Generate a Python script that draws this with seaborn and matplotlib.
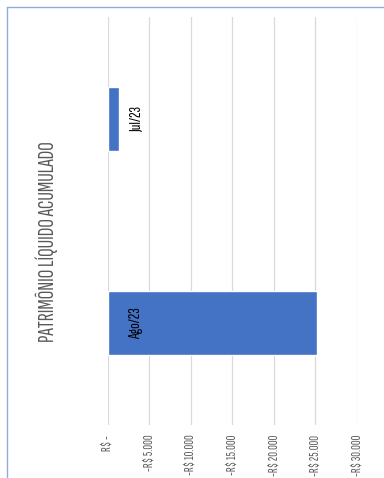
import matplotlib
matplotlib.use("Agg")
import matplotlib.pyplot as plt
from matplotlib.lines import Line2D
from matplotlib.ticker import FixedLocator, FuncFormatter
import seaborn as sns
import pandas as pd

# Accumulated net equity per month (R$, negative balance)
months = ["Jul/23", "Ago/23"]
equity = [-1350, -25200]
tick_values = [0, -5000, -10000, -15000, -20000, -25000, -30000]
title = "PATRIMÔNIO LÍQUIDO ACUMULADO"

sns.set_theme(style="white")
plt.rcParams["font.family"] = ["Sofia Sans Extra Condensed", "Roboto Condensed", "DejaVu Sans"]

df = pd.DataFrame({"mes": months, "valor": equity})

W, H = 384, 478
fig = plt.figure(figsize=(W / 100, H / 100), dpi=100)
ax = fig.add_axes([107.7 / W, 1 - 425 / H, (357 - 107.7) / W, (425 - 17) / H])

sns.barplot(data=df, x="valor", y="mes", orient="h", color="#4472C4",
            saturation=1, width=0.31, ax=ax)

ax.set_xlim(0, -30000)
ax.set_ylim(1.5, -0.5)
ax.xaxis.set_major_locator(FixedLocator(tick_values))


def brl(v, _pos):
    if v == 0:
        return "R$ -"
    return "-R$ " + f"{abs(v):,.0f}".replace(",", ".")


ax.xaxis.set_major_formatter(FuncFormatter(brl))
ax.grid(axis="x", color="#D9D9D9", linewidth=0.9)
ax.set_axisbelow(True)
for s in ax.spines.values():
    s.set_visible(False)
ax.set_xlabel("")
ax.set_ylabel("")
ax.set_yticks([])
ax.tick_params(axis="x", length=0, pad=7, labelsize=9.5, labelcolor="#595959")
for lbl in ax.get_xticklabels():
    lbl.set_rotation(90)
    lbl.set_ha("center")
    lbl.set_va("top")
    lbl.set_fontweight("semibold")

# Category labels, rotated like the rest of the chart
for i, m in enumerate(months):
    ax.text(-3400, i, m, rotation=90, ha="center", va="center",
            fontsize=12, fontweight="semibold", color="black")

fig.text(47 / W, 1 - 242 / H, title, rotation=90, ha="center", va="center",
         fontsize=15.5, fontweight="semibold", color="#595959")

# Chart-area frame lines
frame = "#8FAADC"
fig.add_artist(Line2D([7 / W, 1], [1 - 7 / H, 1 - 7 / H], color=frame,
                      linewidth=1, transform=fig.transFigure))
fig.add_artist(Line2D([7 / W, 7 / W], [0, 1 - 7 / H], color=frame,
                      linewidth=1, transform=fig.transFigure))

fig.savefig("out.png", dpi=100)
